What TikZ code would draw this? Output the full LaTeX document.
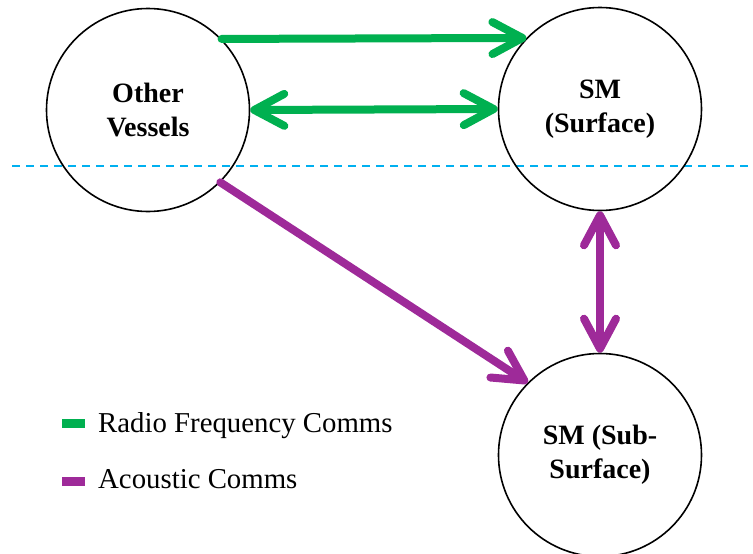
\documentclass[tikz,border=0pt]{standalone}
\usepackage{fontspec}
\setmainfont{Liberation Serif}
\usetikzlibrary{arrows.meta}
\definecolor{rfgreen}{HTML}{00B050}
\definecolor{acpurple}{HTML}{9E2A99}
\definecolor{waterline}{HTML}{00B0F0}
\begin{document}
\begin{tikzpicture}[x=1pt,y=-1pt,
  rtip/.tip={Straight Barb[round,length=30pt,width=32pt]},
  station/.style={circle, draw=black, line width=1.6pt, minimum size=203pt,
    inner sep=0pt, align=center, font=\fontsize{28}{34}\selectfont\bfseries},
  link/.style={line width=8pt, line cap=round},
  rf/.style={link, draw=rfgreen},
  ac/.style={link, draw=acpurple},
  swatch/.style={rectangle, minimum width=23pt, minimum height=9pt, inner sep=0pt},
  legendtext/.style={anchor=base west, inner sep=0pt, font=\fontsize{28.8}{34}\selectfont}
]
\useasboundingbox (0,0) rectangle (753,554);

% sea surface
\coordinate (wl) at (12,166);
\coordinate (wr) at (753,166);
\draw[waterline, line width=1.8pt, dash pattern=on 8pt off 6pt] (wl) -- (wr);

% stations
\node[station] (ov)  at (148,110) {Other\\Vessels};
\node[station] (sms) at (600,109) {SM\\(Surface)};
\node[station] (smb) at (600,455) {SM (Sub-\\Surface)};

% radio frequency links
\draw[rf, -rtip] (ov.44) -- (sms.136);
\draw[rf, rtip-rtip] (ov.east) -- (sms.west);

% acoustic links
\draw[ac, -rtip] (ov.-45) -- (smb.135);
\draw[ac, rtip-rtip] (sms.south) -- (smb.north);

% legend
\node[swatch, fill=rfgreen] (lrf) at (73.5,423.5) {};
\node[legendtext] (lrft) at (98,432) {Radio Frequency Comms};
\node[swatch, fill=acpurple] (lac) at (73.5,481.5) {};
\node[legendtext] (lact) at (98,488) {Acoustic Comms};
\end{tikzpicture}
\end{document}
